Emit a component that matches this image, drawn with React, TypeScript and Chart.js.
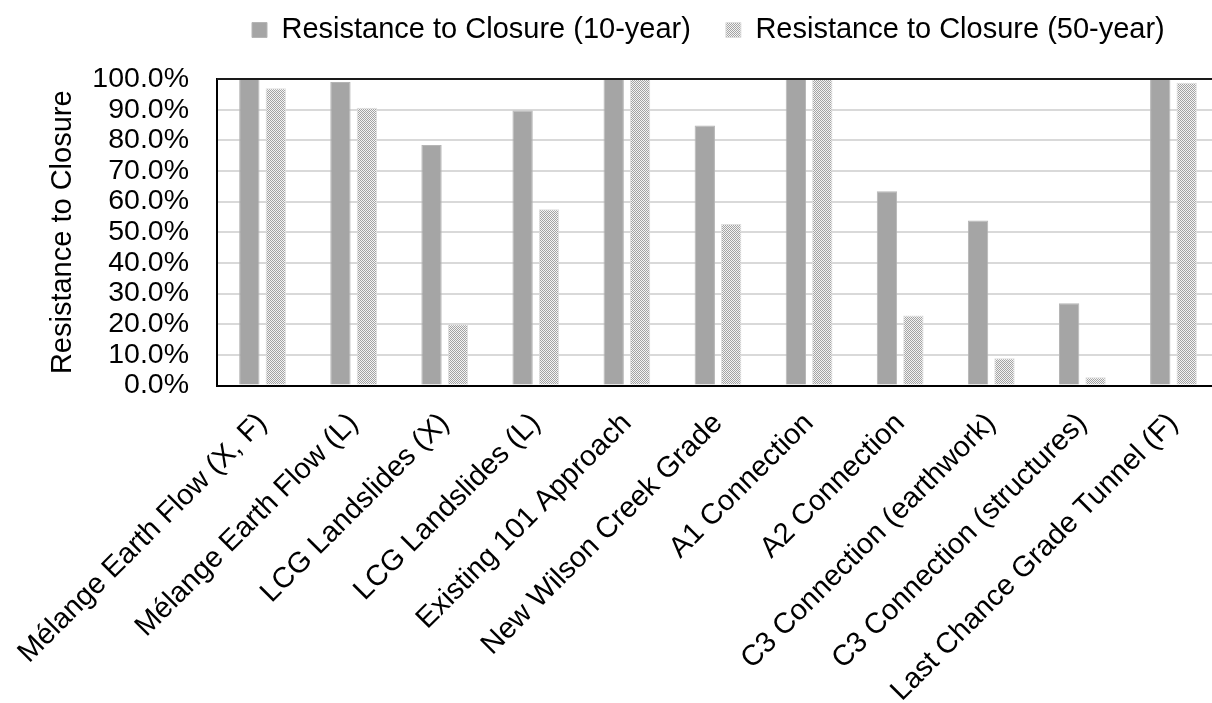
import React, { useEffect, useRef } from "react";
import { Chart, registerables } from "chart.js";

Chart.register(...registerables);

const categories = [
  "Mélange Earth Flow (X, F)",
  "Mélange Earth Flow (L)",
  "LCG Landslides (X)",
  "LCG Landslides (L)",
  "Existing 101 Approach",
  "New Wilson Creek Grade",
  "A1 Connection",
  "A2 Connection",
  "C3 Connection (earthwork)",
  "C3 Connection (structures)",
  "Last Chance Grade Tunnel (F)",
];

const series10Label = "Resistance to Closure (10-year)";
const series50Label = "Resistance to Closure (50-year)";

const values10 = [1.0, 0.99, 0.785, 0.897, 1.0, 0.848, 1.0, 0.634, 0.538, 0.268, 1.0];
const values50 = [0.97, 0.906, 0.2, 0.575, 1.0, 0.527, 1.0, 0.228, 0.089, 0.027, 0.988];

const yAxisTitle = "Resistance to Closure";

const FONT = "'Liberation Sans', Arial, sans-serif";
const CANVAS_W = 1240;
const CANVAS_H = 703;
const PLOT_LEFT = 217;
const PLOT_RIGHT = 1219;
const PLOT_TOP = 79;
const PLOT_BOTTOM = 385.5;
const LEGEND_PAD = 35;
const LEGEND_LEFT = 252 - LEGEND_PAD;
const LEGEND_TEXT_Y = 30;

function makePattern(): CanvasPattern | string {
  const c = document.createElement("canvas");
  c.width = 2;
  c.height = 2;
  const g = c.getContext("2d");
  if (!g) return "#cccccc";
  g.fillStyle = "#f4f4f4";
  g.fillRect(0, 0, 2, 2);
  g.fillStyle = "#a3a3a3";
  g.fillRect(0, 0, 1, 1);
  g.fillRect(1, 1, 1, 1);
  const p = g.createPattern(c, "repeat");
  return p || "#cccccc";
}

const framePlugin = {
  id: "frame",
  afterLayout(chart: any) {
    const lg = chart.legend;
    if (lg) {
      const h = lg.bottom - lg.top;
      lg.left = LEGEND_LEFT;
      lg.top = LEGEND_TEXT_Y - LEGEND_PAD - 14.5;
      lg.bottom = lg.top + h;
    }
  },
  afterDatasetsDraw(chart: any) {
    const { ctx, chartArea } = chart;
    ctx.save();
    ctx.strokeStyle = "#1a1a1a";
    ctx.lineWidth = 2;
    ctx.beginPath();
    ctx.moveTo(chartArea.left, chartArea.top);
    ctx.lineTo(chartArea.right, chartArea.top);
    ctx.moveTo(chartArea.right, chartArea.top);
    ctx.lineTo(chartArea.right, chartArea.bottom);
    ctx.stroke();
    ctx.restore();
  },
};

export default function App() {
  const ref = useRef<HTMLCanvasElement | null>(null);

  useEffect(() => {
    if (!ref.current) return;
    Chart.defaults.font.family = FONT;
    Chart.defaults.color = "#000000";
    const pattern = makePattern();
    const chart = new Chart(ref.current, {
      type: "bar",
      data: {
        labels: categories,
        datasets: [
          {
            label: series10Label,
            data: values10,
            backgroundColor: "#a5a5a5",
            borderColor: "#b5b5b5",
            borderWidth: 1,
          },
          {
            label: series50Label,
            data: values50,
            backgroundColor: pattern as any,
            borderColor: "#dedede",
            borderWidth: 1,
          },
        ],
      },
      options: {
        responsive: false,
        animation: false,
        devicePixelRatio: 1,
        datasets: {
          bar: {
            categoryPercentage: 0.58,
            barPercentage: 0.77,
          },
        },
        layout: {
          padding: {
            top: PLOT_TOP - (29 + LEGEND_PAD + 10),
            left: 0,
            right: CANVAS_W - PLOT_RIGHT,
            bottom: 0,
          },
        },
        plugins: {
          legend: {
            position: "top",
            align: "start",
            labels: {
              boxWidth: 15,
              boxHeight: 15,
              padding: LEGEND_PAD,
              color: "#000000",
              font: { size: 29, family: FONT },
            },
          },
          tooltip: { enabled: false },
        },
        scales: {
          x: {
            grid: { display: false },
            border: { display: true, color: "#000000", width: 2 },
            ticks: {
              autoSkip: false,
              minRotation: 45,
              maxRotation: 45,
              padding: 13,
              color: "#000000",
              font: { size: 29, family: FONT },
            },
            afterFit: (s: any) => {
              s.height = CANVAS_H - PLOT_BOTTOM;
            },
          },
          y: {
            min: 0,
            max: 1,
            grid: { color: "#d9d9d9", lineWidth: 2, drawTicks: false },
            border: { display: true, color: "#000000", width: 2 },
            ticks: {
              stepSize: 0.1,
              autoSkip: false,
              padding: 28,
              color: "#000000",
              font: { size: 28.5, family: FONT },
              callback: (v: any) => (Number(v) * 100).toFixed(1) + "%",
            },
            title: {
              display: true,
              text: yAxisTitle,
              color: "#000000",
              font: { size: 29, family: FONT },
              padding: { top: 45.5, bottom: 0 },
            },
            afterFit: (s: any) => {
              s.width = PLOT_LEFT;
            },
          },
        },
      },
      plugins: [framePlugin],
    });
    return () => chart.destroy();
  }, []);

  return (
    <div
      style={{
        position: "fixed",
        left: 0,
        top: 0,
        width: 1212,
        height: 703,
        overflow: "hidden",
        background: "#ffffff",
      }}
    >
      <canvas ref={ref} width={CANVAS_W} height={CANVAS_H} style={{ display: "block" }} />
    </div>
  );
}
